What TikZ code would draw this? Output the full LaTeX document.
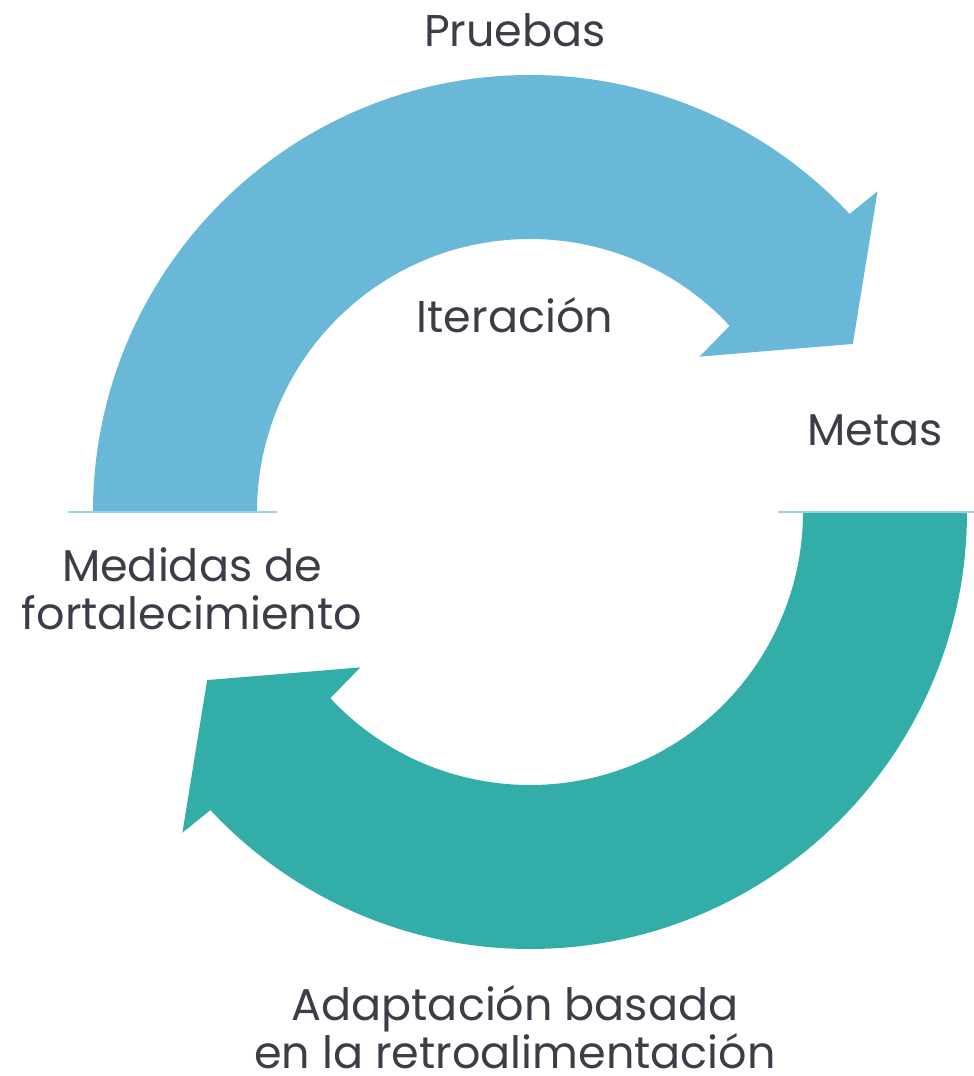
\documentclass[tikz,border=0pt]{standalone}
\usepackage{fontspec}
\setmainfont{Poppins}
\usetikzlibrary{positioning}
\definecolor{pruebasBlue}{HTML}{69B8D8}
\definecolor{adaptTeal}{HTML}{32ADA7}
\definecolor{baseLine}{HTML}{9CD2E6}
\definecolor{labelGray}{HTML}{3D3D4A}
\begin{document}
\begin{tikzpicture}
[x=1pt,y=1pt,
  labelText/.style={text=labelGray,font=\fontsize{44.5}{48}\selectfont,align=center,inner sep=0pt},%
  baseRule/.style={draw=baseLine,line width=2pt},%
  bandFill/.style={draw=none}]
\useasboundingbox (-530,-564) rectangle (444,512);
%% the two curved arrows
\foreach \arrowcolor/\turn in {pruebasBlue/0, adaptTeal/180}
{
  \fill[bandFill,\arrowcolor,rotate=\turn] (180:437) arc[start angle=180,end angle=43,radius=437]
    -- (42.7:473) -- (27.5:364) -- (42.5:230) -- (43:273)
    arc[start angle=43,end angle=180,radius=273] -- cycle;
}
%% base lines
\foreach \rulename/\xa/\xb in {left/-462/-253, right/248/444}
{
  \coordinate (\rulename a) at (\xa,0);
  \coordinate (\rulename b) at (\xb,0);
  \draw[baseRule] (\rulename a) -- (\rulename b);
}
%% labels
\foreach \nodename/\x/\y/\txt in {pruebas/-15/482/Pruebas, iteracion/-15/197/Iteración,
  metas/345/82/Metas, medidas/-338/-77/Medidas de\\fortalecimiento}
{
  \node (\nodename) at (\x,\y) [labelText] {\txt};
}
\node (adaptacion) at (-15,-557) [labelText,text depth=0pt,anchor=south] {Adaptación basada\\en la retroalimentación};
\end{tikzpicture}
\end{document}
